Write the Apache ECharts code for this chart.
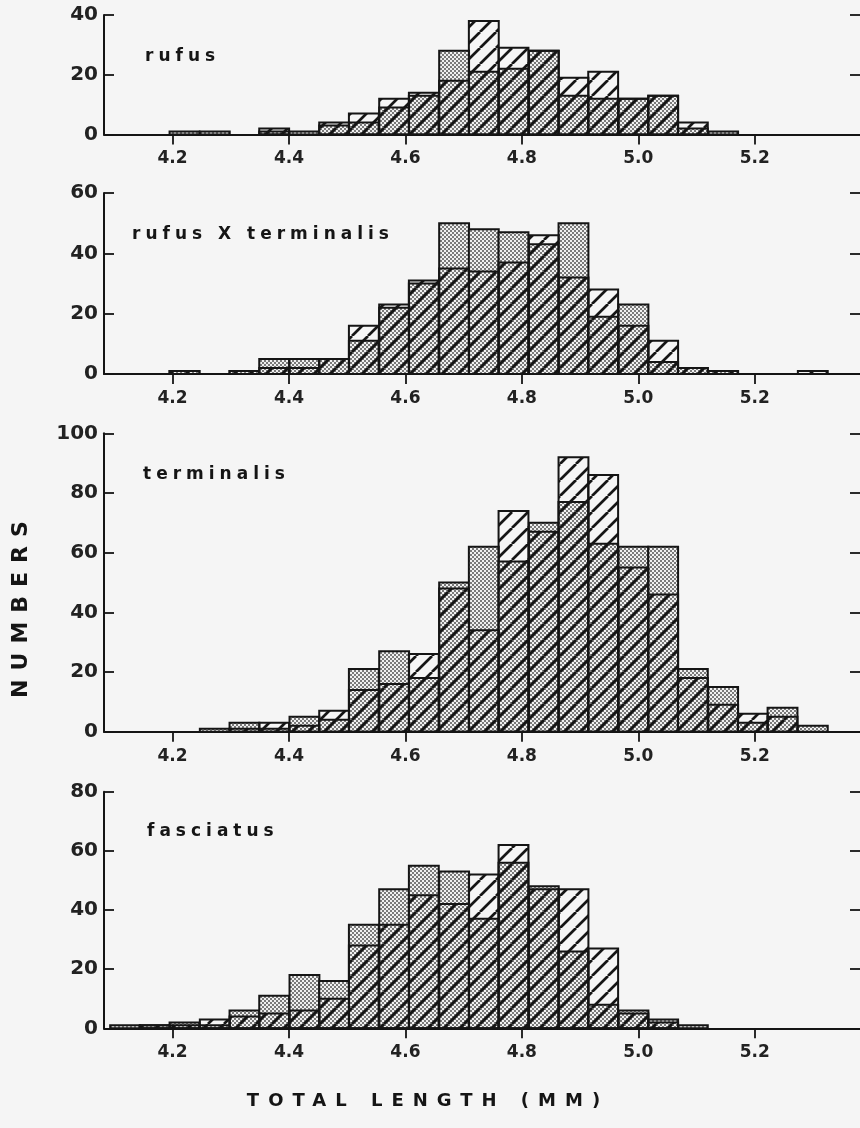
<!DOCTYPE html>
<html><head><meta charset="utf-8">
<script src="https://cdn.jsdelivr.net/npm/echarts@6/dist/echarts.min.js"></script>
<style>html,body{margin:0;padding:0;background:#f5f5f5}#c{width:860px;height:1128px}</style>
</head><body><div id="c"></div>
<script>
// ---- data ----
const binStarts = [4.093,4.144,4.195,4.247,4.298,4.349,4.401,4.452,4.503,4.555,4.606,4.658,4.709,4.760,4.812,4.863,4.914,4.966,5.017,5.068,5.120,5.171,5.222,5.274,5.325];
const binWidth = 0.0513;
const tickValues = [4.2, 4.4, 4.6, 4.8, 5.0, 5.2];
const panelNames = ['rufus', 'rufus X terminalis', 'terminalis', 'fasciatus'];
const yMaxes = [40, 60, 100, 80];

const rufusStipple = [0,0,1,1,0,1,1,3,4,9,13,28,21,22,28,13,12,12,13,2,1,0,0,0,0];
const rufusHatch   = [0,0,0,0,0,2,0,4,7,12,14,18,38,29,28,19,21,12,13,4,0,0,0,0,0];

const hybridStipple = [0,0,1,0,1,5,5,5,11,22,30,50,48,47,43,50,19,23,4,2,1,0,0,0,0];
const hybridHatch   = [0,0,1,0,1,2,2,5,16,23,31,35,34,37,46,32,28,16,11,2,1,0,0,1,0];

const terminalisStipple = [0,0,0,1,3,1,5,4,21,27,18,50,62,57,70,77,63,62,62,21,15,3,8,2,0];
const terminalisHatch   = [0,0,0,0,1,3,2,7,14,16,26,48,34,74,67,92,86,55,46,18,9,6,5,0,0];

const fasciatusStipple = [1,1,2,1,6,11,18,16,35,47,55,53,37,56,48,26,8,6,3,1,0,0,0,0,0];
const fasciatusHatch   = [0,1,1,3,4,5,6,10,28,35,45,42,52,62,47,47,27,5,2,0,0,0,0,0,0];

const stippleSets = [rufusStipple, hybridStipple, terminalisStipple, fasciatusStipple];
const hatchSets = [rufusHatch, hybridHatch, terminalisHatch, fasciatusHatch];

// ---- layout ----
const grids = [
  {top: 15, height: 119.5},
  {top: 193, height: 181},
  {top: 433.3, height: 298.4},
  {top: 791.7, height: 236.6}
];
const labelPos = [[145, 57], [132, 235], [143, 475], [147, 832]];
const FONT = '"DejaVu Sans", "Liberation Sans", sans-serif';
const INK = '#151515';

// wide letter spacing for the hand-lettered captions (rendering only; texts stay intact)
const spacing = {'rufus': '5px', 'rufus X terminalis': '5px', 'terminalis': '5px', 'fasciatus': '5px',
  'NUMBERS': '9px', 'TOTAL LENGTH (MM)': '9px'};
(function () {
  const proto = CanvasRenderingContext2D.prototype;
  const orig = proto.fillText;
  proto.fillText = function (t, x, y, w) {
    const has = 'letterSpacing' in this;
    if (has) this.letterSpacing = spacing[t] || '0px';
    const r = (w === undefined) ? orig.call(this, t, x, y) : orig.call(this, t, x, y, w);
    if (has) this.letterSpacing = '0px';
    return r;
  };
})();

function makeStipple() {
  const c = document.createElement('canvas'); c.width = 4; c.height = 4;
  const g = c.getContext('2d');
  g.fillStyle = '#f0f0f0'; g.fillRect(0, 0, 4, 4);
  g.fillStyle = '#7a7a7a'; g.fillRect(0, 0, 2, 2); g.fillRect(2, 2, 2, 2);
  return c;
}
function makeHatch() {
  const s = 16; const c = document.createElement('canvas'); c.width = s; c.height = s;
  const g = c.getContext('2d');
  g.strokeStyle = INK; g.lineWidth = 2.7; g.beginPath();
  for (const k of [-s, 0, s]) { g.moveTo(k, s); g.lineTo(k + s, 0); }
  g.stroke();
  return c;
}
const stipplePattern = {image: makeStipple(), repeat: 'repeat'};
const hatchPattern = {image: makeHatch(), repeat: 'repeat'};

function barRenderer(pattern) {
  return function (params, api) {
    const x0 = api.value(0), v = api.value(1);
    if (!v) return null;
    const p0 = api.coord([x0, 0]);
    const p1 = api.coord([x0 + binWidth, v]);
    return {
      type: 'rect',
      shape: {x: p0[0], y: p1[1], width: p1[0] - p0[0], height: p0[1] - p1[1]},
      style: {fill: pattern, stroke: INK, lineWidth: 2}
    };
  };
}

const option = {
  backgroundColor: '#f5f5f5',
  animation: false,
  grid: grids.map(g => ({left: 104, right: 0, top: g.top, height: g.height, outerBoundsMode: 'none'})),
  xAxis: grids.map((g, i) => ({
    gridIndex: i, type: 'value', min: 4.0824, max: 5.3807,
    axisLine: {lineStyle: {color: INK, width: 2}},
    axisTick: {customValues: tickValues, length: 10, lineStyle: {color: INK, width: 1.8}},
    axisLabel: {customValues: tickValues, formatter: v => v.toFixed(1), fontSize: 17, fontWeight: 'bold',
      color: '#222', margin: 16, fontFamily: FONT},
    splitLine: {show: false}
  })),
  yAxis: [].concat(...grids.map((g, i) => [
    {gridIndex: i, type: 'value', min: 0, max: yMaxes[i], interval: 20, position: 'left',
      axisLine: {show: true, lineStyle: {color: INK, width: 2}},
      axisTick: {show: true, inside: true, length: 10, lineStyle: {color: INK, width: 1.8}},
      axisLabel: {fontSize: 20, fontWeight: 'bold', color: '#222', margin: 6, fontFamily: FONT},
      splitLine: {show: false}},
    {gridIndex: i, type: 'value', min: 0, max: yMaxes[i], interval: 20, position: 'right',
      axisLine: {show: false},
      axisTick: {show: true, inside: true, length: 10, lineStyle: {color: INK, width: 1.8}},
      axisLabel: {show: false}, splitLine: {show: false}}
  ])),
  series: [].concat(...grids.map((g, i) => [
    {type: 'custom', xAxisIndex: i, yAxisIndex: 2 * i, renderItem: barRenderer(stipplePattern),
      data: binStarts.map((s, k) => [s, stippleSets[i][k]]), z: 2},
    {type: 'custom', xAxisIndex: i, yAxisIndex: 2 * i, renderItem: barRenderer(hatchPattern),
      data: binStarts.map((s, k) => [s, hatchSets[i][k]]), z: 3}
  ])),
  graphic: [
    ...panelNames.map((n, i) => ({type: 'text', x: labelPos[i][0], y: labelPos[i][1],
      style: {text: n, font: 'bold 17px ' + FONT, fill: INK, verticalAlign: 'middle'}})),
    {type: 'text', x: 21, y: 605, rotation: Math.PI / 2,
      style: {text: 'NUMBERS', font: 'bold 22px ' + FONT, fill: INK, align: 'center', verticalAlign: 'middle'}},
    {type: 'text', x: 428, y: 1101,
      style: {text: 'TOTAL LENGTH (MM)', font: 'bold 18px ' + FONT, fill: INK, align: 'center', verticalAlign: 'middle'}}
  ]
};
const chart = echarts.init(document.getElementById('c'), null, {renderer: 'canvas'});
chart.setOption(option);
</script></body></html>
